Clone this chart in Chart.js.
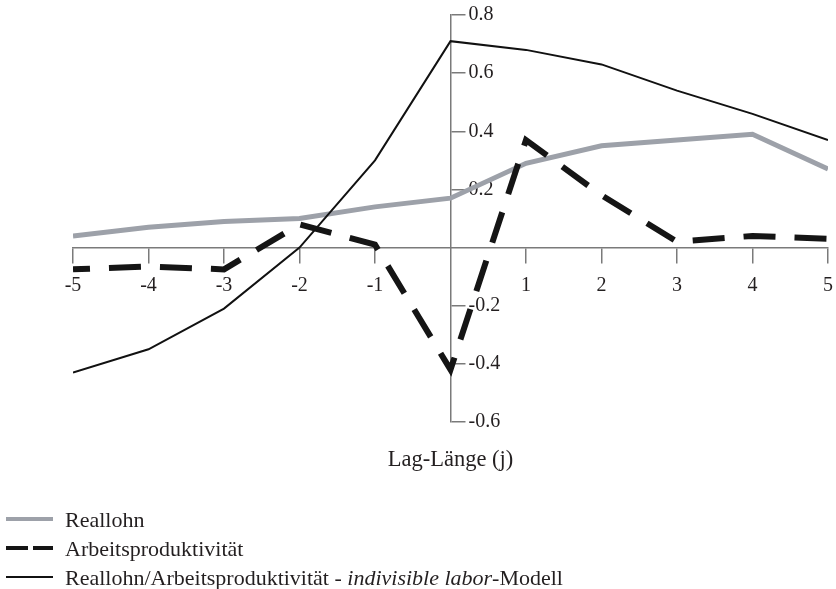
<!DOCTYPE html>
<html>
<head>
<meta charset="utf-8">
<script src="https://cdn.jsdelivr.net/npm/chart.js@4/dist/chart.umd.min.js"></script>
<style>
  html, body { margin: 0; padding: 0; background: #ffffff; }
  #wrap { width: 836px; height: 589px; position: relative; }
</style>
</head>
<body>
<div id="wrap"><canvas id="c" width="836" height="589"></canvas></div>
<script>
// Lag j and cross-correlations with output
const lags = [-5, -4, -3, -2, -1, 0, 1, 2, 3, 4, 5];
const reallohn = [0.04, 0.07, 0.09, 0.10, 0.14, 0.17, 0.29, 0.35, 0.37, 0.39, 0.27];
const arbeitsproduktivitaet = [-0.075, -0.065, -0.075, 0.08, 0.01, -0.42, 0.37, 0.18, 0.02, 0.04, 0.03];
const indivisibleLabor = [-0.43, -0.35, -0.21, 0.0, 0.30, 0.71, 0.68, 0.63, 0.54, 0.46, 0.37];

// Axis ticks (zero is left out: the axes cross there)
const xTicks = [-5, -4, -3, -2, -1, 1, 2, 3, 4, 5];
const yTicks = [-0.6, -0.4, -0.2, 0.2, 0.4, 0.6, 0.8];

const seriesNames = [
  'Reallohn',
  'Arbeitsproduktivität',
  'Reallohn/Arbeitsproduktivität - indivisible labor-Modell'
];
const italicPhrase = 'indivisible labor';
const xTitle = 'Lag-Länge (j)';

const FONT = "'Liberation Serif', 'DejaVu Serif', serif";
const TEXT = '#231f20';
const AXIS = '#7a7a7a';

const toPoints = (vals) => vals.map((v, i) => ({ x: lags[i], y: v }));

// Put the y axis on the vertical line x = 0, ticks and labels on its right side
const yAxisAtZero = {
  id: 'yAxisAtZero',
  afterLayout(chart) {
    const px = chart.scales.x.getPixelForValue(0);
    const ys = chart.scales.y;
    ys.left = px;
    ys.right = px + 80; // room for the tick labels (label clip box)
  }
};

// Axis title and key below the plot
const keyPlugin = {
  id: 'seriesKey',
  afterDraw(chart) {
    const ctx = chart.ctx;
    const area = chart.chartArea;
    ctx.save();
    ctx.fillStyle = TEXT;
    ctx.textBaseline = 'alphabetic';
    ctx.textAlign = 'center';
    ctx.font = '22.5px ' + FONT;
    ctx.fillText(xTitle, (area.left + area.right) / 2, area.bottom + 44);

    const keyTop = 519, keyRow = 29, x0 = 6, x1 = 53, tx = 65;
    chart.data.datasets.forEach((ds, i) => {
      const y = keyTop + i * keyRow;
      ctx.beginPath();
      ctx.strokeStyle = ds.borderColor;
      ctx.lineWidth = ds.keyWidth;
      ctx.lineCap = 'butt';
      ctx.setLineDash(ds.keyDash || []);
      ctx.moveTo(x0, y);
      ctx.lineTo(x1, y);
      ctx.stroke();
      ctx.setLineDash([]);

      ctx.textAlign = 'left';
      let x = tx;
      const label = ds.label;
      const k = label.indexOf(italicPhrase);
      const parts = k < 0 ? [[label, false]] :
        [[label.slice(0, k), false], [italicPhrase, true], [label.slice(k + italicPhrase.length), false]];
      parts.forEach(([s, it]) => {
        ctx.font = (it ? 'italic ' : '') + '22px ' + FONT;
        ctx.fillText(s, x, y + 8);
        x += ctx.measureText(s).width;
      });
    });
    ctx.restore();
  }
};

const axisGrid = { drawOnChartArea: false, drawTicks: true, tickLength: 15, color: AXIS, lineWidth: 1.5 };
const axisBorder = { color: AXIS, width: 1.5 };

new Chart(document.getElementById('c'), {
  type: 'line',
  data: {
    datasets: [
      {
        label: seriesNames[0],
        data: toPoints(reallohn),
        borderColor: '#9da1a9',
        borderWidth: 5,
        keyWidth: 4,
        order: 3
      },
      {
        label: seriesNames[1],
        data: toPoints(arbeitsproduktivitaet),
        borderColor: '#151515',
        borderWidth: 6,
        borderDash: [32, 19],
        borderDashOffset: 15,
        keyWidth: 4,
        keyDash: [22, 5],
        order: 1
      },
      {
        label: seriesNames[2],
        data: toPoints(indivisibleLabor),
        borderColor: '#111111',
        borderWidth: 2,
        keyWidth: 2,
        order: 2
      }
    ]
  },
  options: {
    responsive: false,
    animation: false,
    parsing: false,
    layout: { padding: { left: 73, right: 8, top: 15, bottom: 167 } },
    elements: {
      point: { radius: 0 },
      line: { tension: 0, fill: false, borderCapStyle: 'butt', borderJoinStyle: 'miter' }
    },
    plugins: { legend: { display: false }, tooltip: { enabled: false }, title: { display: false } },
    scales: {
      x: {
        type: 'linear',
        min: -5,
        max: 5,
        position: { y: 0 },
        afterFit: (s) => { s.paddingLeft = 0; s.paddingRight = 0; },
        afterBuildTicks: (s) => { s.ticks = xTicks.map(v => ({ value: v })); },
        grid: axisGrid,
        border: axisBorder,
        ticks: {
          font: { family: FONT, size: 20 },
          color: TEXT,
          padding: 11,
          maxRotation: 0,
          autoSkip: false,
          callback: (v) => String(v)
        }
      },
      y: {
        type: 'linear',
        min: -0.6,
        max: 0.8,
        position: 'right',
        afterFit: (s) => { s.width = 0; s.paddingTop = 0; s.paddingBottom = 0; },
        afterBuildTicks: (s) => { s.ticks = yTicks.map(v => ({ value: v })); },
        grid: axisGrid,
        border: axisBorder,
        ticks: {
          font: { family: FONT, size: 20 },
          color: TEXT,
          padding: 3,
          autoSkip: false,
          callback: (v) => v.toFixed(1)
        }
      }
    }
  },
  plugins: [yAxisAtZero, keyPlugin]
});
</script>
</body>
</html>
